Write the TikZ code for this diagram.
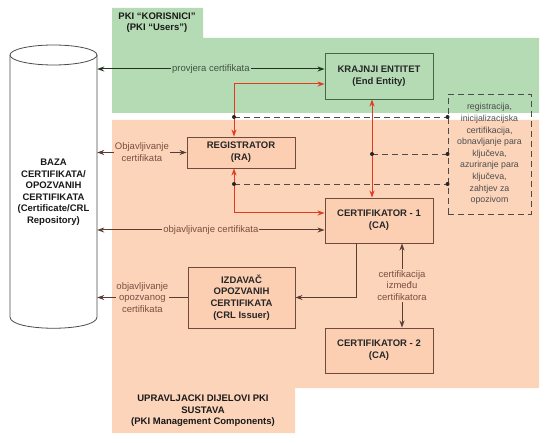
\documentclass[tikz,border=0pt]{standalone}
\usepackage{fontspec}
\setmainfont{Liberation Sans}
\usetikzlibrary{positioning, arrows.meta}
\definecolor{usergreen}{HTML}{B5DBB5}
\definecolor{mgmtorange}{HTML}{FCCFB2}
\definecolor{boxbrown}{HTML}{6F4B3E}
\definecolor{greenborder}{HTML}{3F6A45}
\definecolor{redline}{HTML}{E2391F}
\definecolor{labelbrown}{HTML}{7B4E40}
\definecolor{darkline}{HTML}{22331F}
\definecolor{dashgray}{HTML}{4B4B4B}

\begin{document}
\begin{tikzpicture}[x=1pt, y=-1pt, >={Stealth[length=7pt,width=5pt]},
  font=\fontsize{9.5}{11.8}\selectfont,
  pkibox/.style={draw=boxbrown, fill=mgmtorange, line width=0.9pt, align=center,
    font=\fontsize{9.5}{11.8}\selectfont\bfseries, text=black!85, inner sep=0pt,
    minimum width=108pt, minimum height=45pt},
  brownarrow/.style={draw=boxbrown!80!black, line width=1pt},
  redarrow/.style={draw=redline, line width=1pt},
  dashline/.style={draw=dashgray, line width=0.9pt, dash pattern=on 6pt off 4pt},
  arrowlabel/.style={midway, align=center, inner sep=1pt, text=labelbrown},
  title/.style={align=center, font=\fontsize{9.5}{11.5}\selectfont\bfseries, text=black!90}]
\useasboundingbox (0,0) rectangle (548,443);

\fill[usergreen] (112,8) -- (203,8) -- (203,38) -- (539,38) -- (539,113) -- (112,113) -- cycle;
\fill[mgmtorange!90!white] (112,120) -- (539,120) -- (539,388) -- (295,388) -- (295,433) -- (112,433) -- cycle;
\node[title] (usertitle) at (157,22.5) {PKI “KORISNICI”\\(PKI “Users”)};
\node[title] (mgmttitle) at (203,411) {UPRAVLJACKI DIJELOVI PKI\\SUSTAVA\\(PKI Management Components)};

\draw[fill=white, draw=black!70, line width=0.8pt] (10,55) -- (10,317) .. controls (10,332) and (97,332) .. (97,317) -- (97,55);
\draw[fill=white, draw=black!70, line width=0.8pt] (53.5,55) ellipse [x radius=43.5pt, y radius=10pt];
\node[title, minimum width=87pt, inner sep=0pt] (repo) at (53.5,192)
  {BAZA\\CERTIFIKATA/\\OPOZVANIH\\CERTIFIKATA\\(Certificate/CRL\\Repository)};

\node[pkibox, draw=greenborder, fill=usergreen, minimum height=46pt] (ke) at (379,76) {KRAJNJI ENTITET\\(End Entity)};
\node[pkibox, minimum height=31pt] (ra) at (241,152.5) {REGISTRATOR\\(RA)};
\node[pkibox] (ca1) at (379,220.5) {CERTIFIKATOR - 1\\(CA)};
\node[pkibox, minimum width=107pt, minimum height=61pt] (izd) at (241.5,297.5) {IZDAVAČ\\OPOZVANIH\\CERTIFIKATA\\(CRL Issuer)};
\node[pkibox] (ca2) at (379,350.5) {CERTIFIKATOR - 2\\(CA)};
\node[dashline, minimum width=83pt, minimum height=120pt, align=center, inner sep=0pt,
  font=\fontsize{8.8}{11.6}\selectfont, text=black!70] (note) at (489.5,154)
  {registracija,\\inicijalizacijska\\certifikacija,\\obnavljanje para\\ključeva,\\azuriranje para\\ključeva,\\zahtjev za\\opozivom};

\draw[line width=1pt, draw=darkline, <->] ([yshift=7pt]ke.west) -- ([yshift=7pt]ke.west -| repo.east)
  node[arrowlabel, fill=usergreen, text=darkline!85] {provjera certifikata};
\draw[redarrow, <->] ([yshift=-8pt]ke.west) -| ([xshift=-7pt]ra.north);
\draw[redarrow, <->] ([xshift=-7pt]ke.south) -- ([xshift=-7pt]ca1.north);
\draw[redarrow, <->] ([xshift=-7pt]ra.south) |- ([yshift=7.5pt]ca1.west);

\coordinate (j1) at (234,117);
\coordinate (j2) at (372,154);
\coordinate (j3) at (234,184);
\foreach \j in {j1,j2,j3}{
  \draw[dashline] (\j) -- (\j -| note.west);
  \fill[black!85] (\j) circle (2pt) (\j -| note.west) circle (2pt);
}

\draw[brownarrow, <->] (ra.west) -- (ra.west -| repo.east)
  node[arrowlabel, fill=mgmtorange!90!white] {Objavljivanje\\certifikata};
\draw[brownarrow, <->] ([yshift=-9.5pt]ca1.west) -- ([yshift=-9.5pt]ca1.west -| repo.east)
  node[arrowlabel, fill=mgmtorange!90!white] {objavljivanje certifikata};
\draw[brownarrow, ->] (izd.west) -- (izd.west -| repo.east)
  node[arrowlabel, fill=mgmtorange!90!white] {objavljivanje\\opozvanog\\certifikata};
\draw[brownarrow, ->] ([xshift=-23pt]ca1.south) |- (izd.east);
\draw[brownarrow, <->] ([xshift=23pt]ca1.south) -- ([xshift=23pt]ca2.north)
  node[arrowlabel, fill=mgmtorange!90!white] {certifikacija\\između\\certifikatora};
\end{tikzpicture}
\end{document}
